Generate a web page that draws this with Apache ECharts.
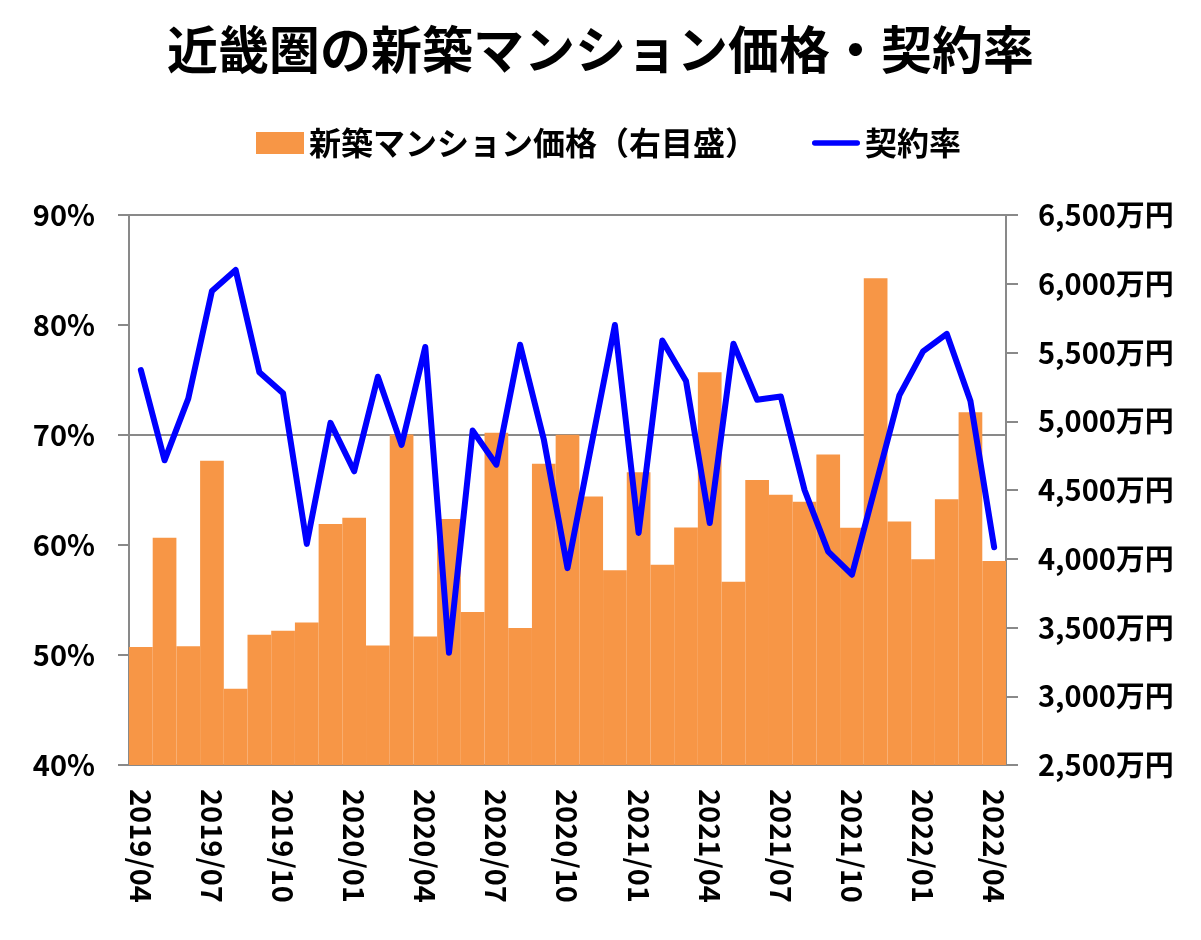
<!DOCTYPE html>
<html>
<head>
<meta charset="utf-8">
<script src="https://cdn.jsdelivr.net/npm/echarts@6/dist/echarts.min.js"></script>
<style>
html,body{margin:0;padding:0;background:#fff;}
#chart{width:1201px;height:940px;}
</style>
</head>
<body>
<div id="chart"></div>
<script>
const titleText = '近畿圏の新築マンション価格・契約率';
const priceName = '新築マンション価格（右目盛）';
const rateName = '契約率';

const months = [
  '2019/04','2019/05','2019/06','2019/07','2019/08','2019/09','2019/10','2019/11','2019/12',
  '2020/01','2020/02','2020/03','2020/04','2020/05','2020/06','2020/07','2020/08','2020/09','2020/10','2020/11','2020/12',
  '2021/01','2021/02','2021/03','2021/04','2021/05','2021/06','2021/07','2021/08','2021/09','2021/10','2021/11','2021/12',
  '2022/01','2022/02','2022/03','2022/04'
];

// 新築マンション価格（万円）
const prices = [3359, 4153, 3364, 4713, 3055, 3448, 3477, 3536, 4252,
  4298, 3369, 4904, 3434, 4290, 3612, 4917, 3496, 4691, 4901, 4452, 3916,
  4629, 3956, 4228, 5356, 3832, 4573, 4465, 4414, 4758, 4225, 6040, 4271,
  3997, 4433, 5065, 3983];

// 契約率（%）
const rates = [75.9, 67.7, 73.3, 83.1, 85.0, 75.7, 73.8, 60.1, 71.1,
  66.7, 75.3, 69.1, 78.0, 50.2, 70.4, 67.3, 78.2, 69.6, 57.9, 69.0, 80.0,
  61.1, 78.6, 74.9, 62.0, 78.3, 73.2, 73.5, 65.0, 59.4, 57.3, 65.4, 73.6,
  77.6, 79.2, 73.1, 59.8];

const FONT = '"Noto Sans CJK JP", "Noto Sans", sans-serif';
const GRID_COLOR = '#898989';
const TRANSPARENT = 'rgba(0,0,0,0)';

function fmtMan(v) {
  return String(v).replace(/\B(?=(\d{3})+(?!\d))/g, ',') + '万円';
}

const chart = echarts.init(document.getElementById('chart'));
chart.setOption({
  backgroundColor: '#ffffff',
  animation: false,
  title: {
    text: titleText,
    left: 'center',
    top: 19,
    textStyle: { fontFamily: FONT, fontWeight: 'bold', fontSize: 51, color: '#000' }
  },
  legend: {
    left: 256,
    top: 127,
    padding: 0,
    itemWidth: 48,
    itemHeight: 22,
    itemGap: 55,
    symbolKeepAspect: true,
    textStyle: { fontFamily: FONT, fontWeight: 'bold', fontSize: 32, color: '#000' },
    data: [
      { name: priceName, icon: 'rect' },
      { name: rateName, icon: 'path://M0,0 M3,8 L49,8 A3,3 0 0 1 49,14 L3,14 A3,3 0 0 1 3,8 Z M52,22', itemStyle: { color: '#0000FF' } }
    ]
  },
  grid: { left: 129, right: 195, top: 215, bottom: 175, containLabel: false },
  xAxis: {
    type: 'category',
    data: months,
    boundaryGap: true,
    axisLine: { show: true, lineStyle: { color: GRID_COLOR, width: 2 } },
    axisTick: { show: false },
    axisLabel: {
      interval: 2,
      rotate: -90,
      margin: 24,
      fontFamily: FONT, fontWeight: 'bold', fontSize: 29, color: '#000'
    }
  },
  yAxis: [
    {
      type: 'value',
      position: 'left',
      min: 40, max: 90, interval: 10,
      axisLine: { show: true, lineStyle: { color: GRID_COLOR, width: 2 } },
      axisTick: { show: true, inside: false, length: 11, lineStyle: { color: GRID_COLOR, width: 2 } },
      axisLabel: {
        formatter: '{value}%', margin: 34,
        fontFamily: FONT, fontWeight: 'bold', fontSize: 29, color: '#000'
      },
      splitLine: {
        show: true,
        lineStyle: { color: [TRANSPARENT, TRANSPARENT, TRANSPARENT, GRID_COLOR, TRANSPARENT, GRID_COLOR], width: 2 }
      }
    },
    {
      type: 'value',
      position: 'right',
      min: 2500, max: 6500, interval: 500,
      axisLine: { show: true, lineStyle: { color: GRID_COLOR, width: 2 } },
      axisTick: { show: true, inside: false, length: 12, lineStyle: { color: GRID_COLOR, width: 2 } },
      axisLabel: {
        formatter: fmtMan, margin: 32,
        fontFamily: FONT, fontWeight: 'bold', fontSize: 29, color: '#000'
      },
      splitLine: { show: false }
    }
  ],
  series: [
    {
      name: priceName,
      type: 'bar',
      yAxisIndex: 1,
      data: prices,
      barWidth: '100%',
      barCategoryGap: '0%',
      itemStyle: { color: '#F79646' },
      z: 1
    },
    {
      name: rateName,
      type: 'line',
      yAxisIndex: 0,
      data: rates,
      symbol: 'none',
      lineStyle: { color: '#0000FF', width: 6, cap: 'round', join: 'round' },
      itemStyle: { color: '#0000FF' },
      z: 3
    }
  ]
});
</script>
</body>
</html>
